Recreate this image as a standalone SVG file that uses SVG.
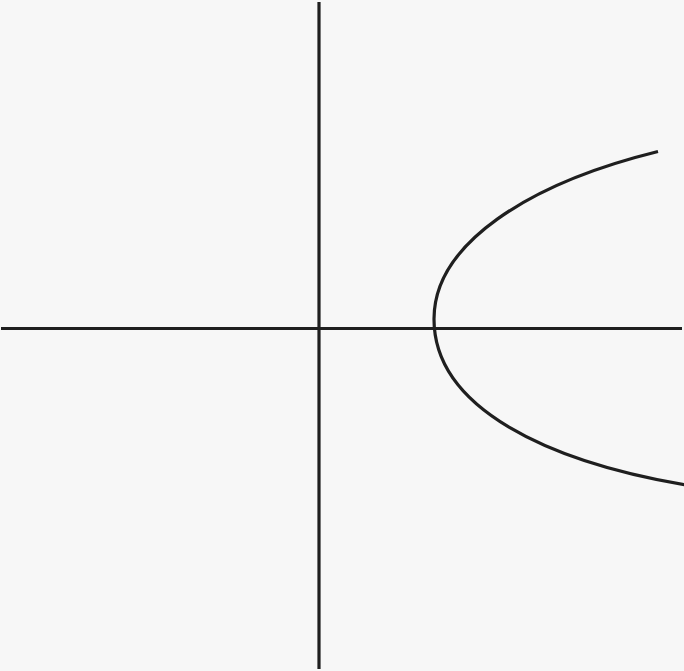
<svg xmlns="http://www.w3.org/2000/svg" width="684" height="671" viewBox="0 0 684 671">
  <style>
    .ln { fill: none; stroke: #1f1f1f; stroke-width: 3.2; }
  </style>
  <rect width="684" height="671" fill="#f7f7f7"/>
  <g id="axes">
    <line class="ln" x1="1" y1="328.5" x2="682" y2="328.5"/>
    <line class="ln" x1="319" y1="2" x2="319" y2="669"/>
  </g>
  <g id="curve">
    <path class="ln" d="M658,151.5 C528,183.5 434,244 434,319 C434,409 550,462 686,485"/>
  </g>
</svg>
